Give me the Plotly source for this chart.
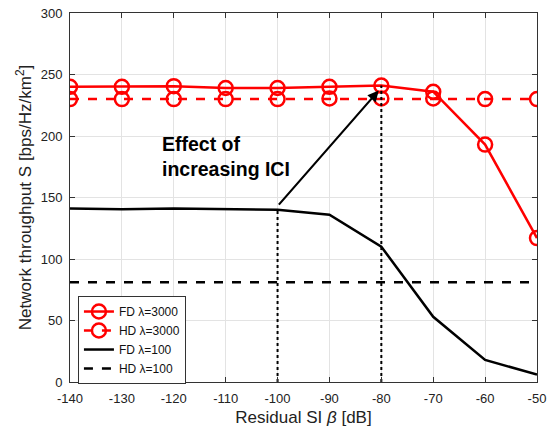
import plotly.graph_objects as go

beta = [-140, -130, -120, -110, -100, -90, -80, -70, -60, -50]
fd_3000 = [240, 240, 240.5, 239, 239, 240, 241, 236, 193, 117]
hd_3000 = [230, 230, 230, 230, 230, 230.5, 230.5, 230.5, 230, 230]
fd_100 = [141, 140.5, 141, 140.8, 140, 136, 110, 53, 18, 6]
hd_100 = [81, 81, 81, 81, 81, 81, 81, 81, 81, 81]
xticks = [-140, -130, -120, -110, -100, -90, -80, -70, -60, -50]
xticklabels = ["-140", "-130", "-120", "-110", "-100", "-90", "-80", "-70", "-60", "-50"]
yticks = [0, 50, 100, 150, 200, 250, 300]

fig = go.Figure()
fig.add_trace(go.Scatter(x=beta, y=fd_3000, mode="lines+markers", name="FD λ=3000",
                         line=dict(color="red", width=2.5),
                         marker=dict(symbol="circle-open", size=14, color="red", line=dict(width=2.5))))
fig.add_trace(go.Scatter(x=beta, y=hd_3000, mode="lines+markers", name="HD λ=3000",
                         line=dict(color="red", width=2.5, dash="dash"),
                         marker=dict(symbol="circle-open", size=14, color="red", line=dict(width=2.5))))
fig.add_trace(go.Scatter(x=beta, y=fd_100, mode="lines", name="FD λ=100",
                         line=dict(color="black", width=2.5)))
fig.add_trace(go.Scatter(x=beta, y=hd_100, mode="lines", name="HD λ=100",
                         line=dict(color="black", width=2.5, dash="dash")))

# dotted vertical markers
fig.add_trace(go.Scatter(x=[-100, -100], y=[0, fd_100[4]], mode="lines", showlegend=False,
                         line=dict(color="black", width=2, dash="dot")))
fig.add_trace(go.Scatter(x=[-80, -80], y=[0, fd_3000[6]], mode="lines", showlegend=False,
                         line=dict(color="black", width=2, dash="dot")))

fig.add_annotation(x=-80.5, y=237, ax=-100, ay=143, xref="x", yref="y", axref="x", ayref="y",
                   showarrow=True, arrowhead=2, arrowsize=1, arrowwidth=2.2, arrowcolor="black", text="")
fig.add_annotation(x=-122.6, y=183, xref="x", yref="y", xanchor="left", yanchor="middle",
                   text="<b>Effect of<br>increasing ICI</b>", showarrow=False, align="left",
                   font=dict(size=19.5, color="black", family="Liberation Sans, Arial"))

axis_common = dict(showgrid=True, gridcolor="#e3e3e3", gridwidth=1, zeroline=False,
                   showline=True, linecolor="#333", linewidth=1, mirror="ticks",
                   ticks="inside", ticklen=5, tickcolor="#333", automargin=False,
                   tickfont=dict(size=13, color="#222"))

fig.update_layout(
    width=553, height=433,
    margin=dict(l=70, r=16, t=13, b=51),
    plot_bgcolor="white", paper_bgcolor="white",
    font=dict(family="Liberation Sans, Arial", color="#222"),
    xaxis=dict(range=[-140, -50], tickvals=xticks, ticktext=xticklabels, ticklabelstandoff=4,
               title=dict(text="Residual SI <i>β</i> [dB]", font=dict(size=17), standoff=6),
               **axis_common),
    yaxis=dict(range=[0, 300], tickvals=yticks, ticklabelstandoff=4,
               title=dict(text="Network throughput S [bps/Hz/km<sup>2</sup>]", font=dict(size=17), standoff=4),
               **axis_common),
    legend=dict(x=0.017, y=0.233, xanchor="left", yanchor="top", bgcolor="white",
                bordercolor="#333", borderwidth=1, font=dict(size=12, color="#111"),
                tracegroupgap=0, itemwidth=30),
    showlegend=True,
)

fig.write_html("out.html", config={"displayModeBar": False},
               post_script="document.body.style.margin='0';document.body.style.overflow='hidden';")
